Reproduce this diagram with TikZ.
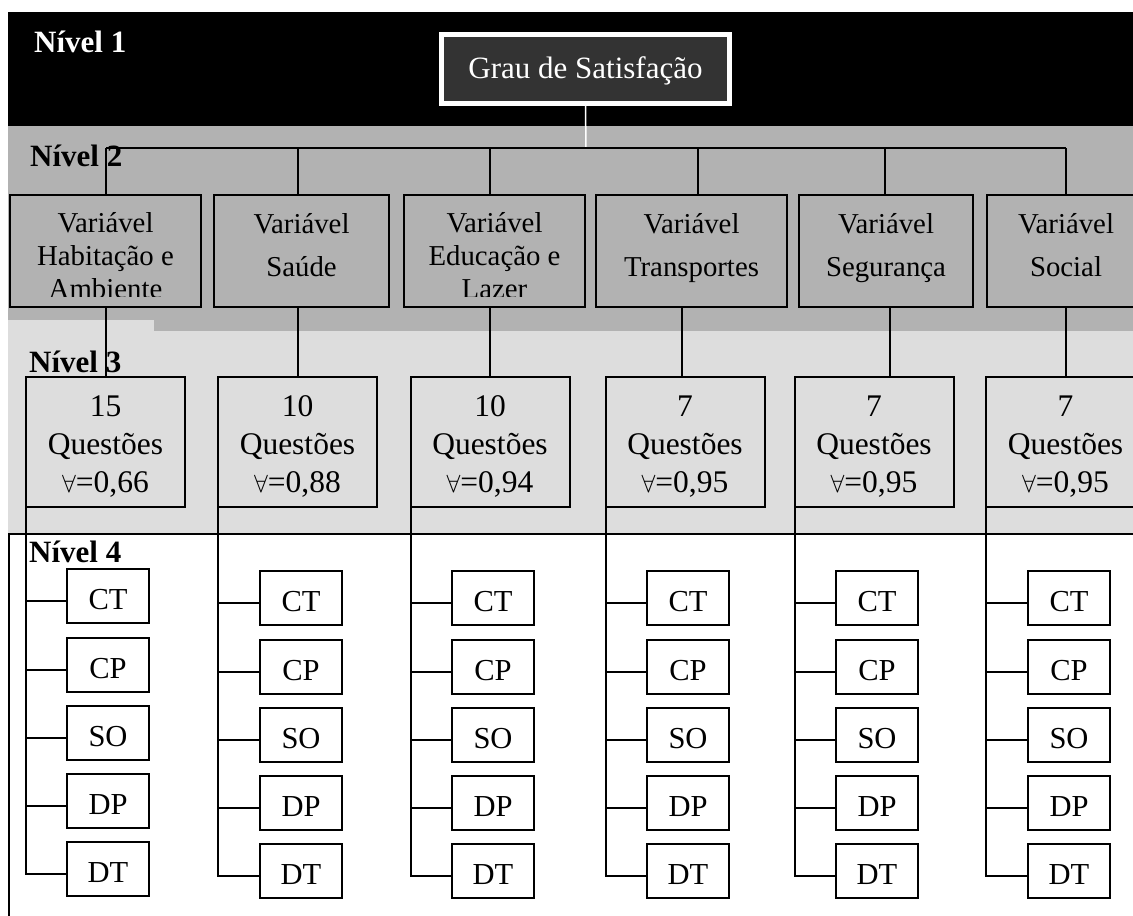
\documentclass[tikz,border=0pt]{standalone}
\usepackage{fontspec}
\setmainfont{Liberation Serif}
\definecolor{bandtwo}{HTML}{B2B2B2}
\definecolor{bandthree}{HTML}{DDDDDD}
\definecolor{darkbox}{HTML}{333333}
\begin{document}
\begin{tikzpicture}[x=1pt,y=-1pt,
  lvl/.style={font=\fontsize{31}{37}\selectfont\bfseries, anchor=base west, inner sep=0pt},
  vbox/.style={draw=black, line width=2pt, fill=bandtwo, inner sep=0pt, outer sep=0pt,
    minimum height=112pt, align=center, text depth=0pt, font=\fontsize{28.8}{33}\selectfont},
  qbox/.style={draw=black, line width=2pt, fill=bandthree, inner sep=0pt, outer sep=0pt,
    minimum width=159pt, minimum height=130pt, align=center, text height=100pt, text depth=0pt,
    font=\fontsize{31.5}{37.8}\selectfont},
  cbox/.style={draw=black, line width=2pt, fill=white, inner sep=0pt,
    minimum width=82pt, minimum height=54pt, text height=26pt, text depth=0pt,
    font=\fontsize{30.5}{36}\selectfont},
  conn/.style={draw=black, line width=2pt},
]
\useasboundingbox (0,0) rectangle (1133,916);
\clip (0,0) rectangle (1133,916);
% bands
\fill[black] (8,12) rectangle (1133,126);
\fill[bandtwo] (8,126) rectangle (1133,331);
\fill[bandthree] (8,331) rectangle (1133,534);
\fill[bandthree] (8,320) rectangle (154,331);
\draw[black, line width=2.5pt] (9,916) -- (9,534) -- (1133,534);
% level labels
\node[lvl, text=white] (n1) at (34,52) {Nível 1};
\node[lvl] (n2) at (30,166) {Nível 2};
\node[lvl] (n3) at (29,372) {Nível 3};
\node[lvl] (n4) at (29,562) {Nível 4};
% level 1
\node[draw=white, line width=5pt, fill=darkbox, text=white, inner sep=0pt,
  minimum width=288pt, minimum height=68.5pt, text height=20pt, text depth=0pt,
  font=\fontsize{31}{37}\selectfont] (g) at (585.5,68.75) {Grau de Satisfação};
% level 2 boxes
\begin{scope}
  \clip (0,0) rectangle (1133,296.5);
  \node[vbox, minimum width=191pt, text height=95pt] (v1) at (105.5,251) {Variável\\Habitação e\\Ambiente};
  \node[vbox, minimum width=181pt, text height=95pt] (v3) at (494.5,251) {Variável\\Educação e\\Lazer};
\end{scope}
\draw[line width=2pt] (v1.south west) rectangle (v1.north east);
\draw[line width=2pt] (v3.south west) rectangle (v3.north east);
\node[vbox, minimum width=175pt, text height=51pt] (v2) at (301.5,251) {Variável\\[10.5pt]Saúde};
\node[vbox, minimum width=191pt, text height=51pt] (v4) at (691.5,251) {Variável\\[10.5pt]Transportes};
\node[vbox, minimum width=174pt, text height=51pt] (v5) at (886,251) {Variável\\[10.5pt]Segurança};
\node[vbox, minimum width=158pt, text height=51pt] (v6) at (1066,251) {Variável\\[10.5pt]Social};
% connectors level 1 -> level 2
\coordinate (h0) at (586,148);
\coordinate (t1) at (106,148);
\coordinate (t2) at (298,148);
\coordinate (t3) at (490,148);
\coordinate (t4) at (698,148);
\coordinate (t5) at (885,148);
\coordinate (t6) at (1066,148);
\draw[white, line width=1.5pt] (g.south) -- (h0);
\draw[conn] (t1) -- (t6);
\foreach \i in {1,...,6} { \draw[conn] (t\i) -- (t\i |- v\i.north); }
% level 3 boxes
\node[qbox] (q1) at (105.5,442) {15\\Questões\\$\forall$=0,66};
\node[qbox] (q2) at (297.5,442) {10\\Questões\\$\forall$=0,88};
\node[qbox] (q3) at (490,442) {10\\Questões\\$\forall$=0,94};
\node[qbox] (q4) at (685,442) {7\\Questões\\$\forall$=0,95};
\node[qbox] (q5) at (874,442) {7\\Questões\\$\forall$=0,95};
\node[qbox] (q6) at (1065.5,442) {7\\Questões\\$\forall$=0,95};
% connectors level 2 -> level 3
\coordinate (b1) at (106,0);
\coordinate (b2) at (298,0);
\coordinate (b3) at (490,0);
\coordinate (b4) at (682,0);
\coordinate (b5) at (890,0);
\coordinate (b6) at (1066,0);
\foreach \i in {1,...,6} { \draw[conn] (b\i |- v\i.south) -- (b\i |- q\i.north); }
% level 4 boxes and connectors
\foreach \i/\x/\dd in {1/108/0, 2/301/2, 3/493/2, 4/688/2, 5/877/2, 6/1069/2} {
  \foreach \j/\lab/\y in {1/CT/596, 2/CP/665, 3/SO/733, 4/DP/801, 5/DT/869} {
    \node[cbox] (c\i\j) at (\x,\y+\dd) {\lab};
    \draw[conn] ([yshift=-5pt]c\i\j.west) -| (q\i.south west);
  }
}
\end{tikzpicture}
\end{document}
